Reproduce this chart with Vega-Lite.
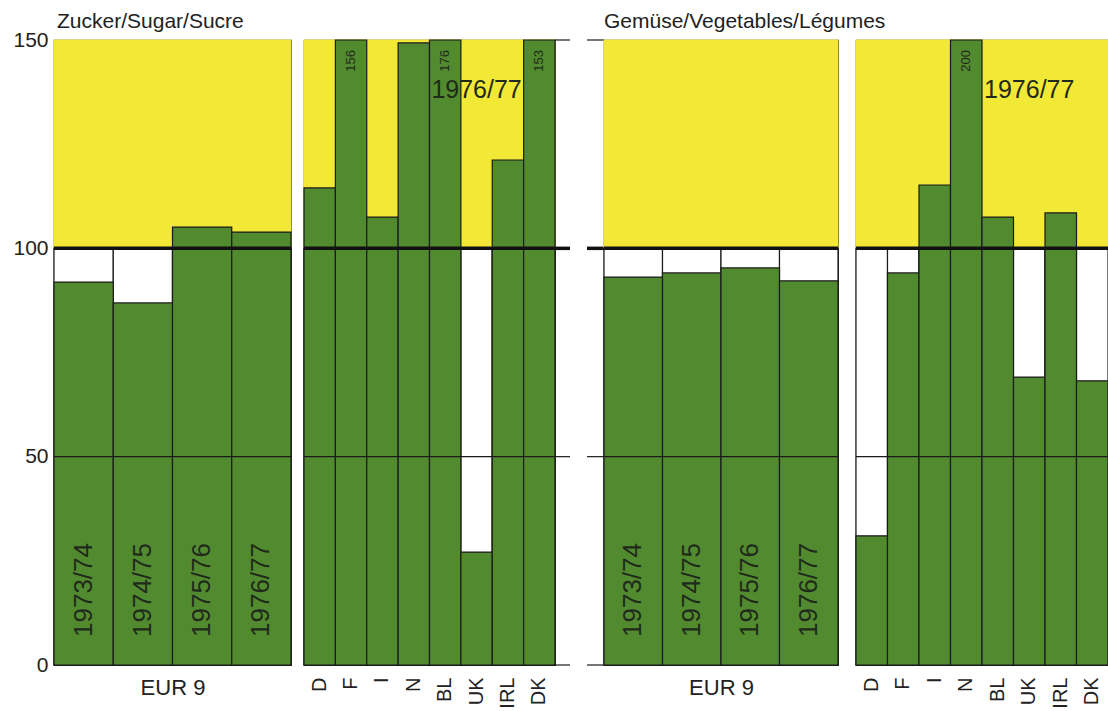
{
"$schema":"https://vega.github.io/schema/vega-lite/v6.json",
"padding":{"left":12,"top":10,"right":0,"bottom":0},
"background":"white",
"config":{"font":"Liberation Sans","view":{"stroke":"#1b1b1b","strokeWidth":1.2}},
"datasets":{
"sugar_eur":[{"k":"1973/74","v":91.9},{"k":"1974/75","v":86.9},{"k":"1975/76","v":105.1},{"k":"1976/77","v":103.9}],
"sugar_cty":[{"k":"D","v":114.5},{"k":"F","v":156},{"k":"I","v":107.5},{"k":"N","v":149.3},{"k":"BL","v":176},{"k":"UK","v":27.1},{"k":"IRL","v":121.2},{"k":"DK","v":153}],
"veg_eur":[{"k":"1973/74","v":93.1},{"k":"1974/75","v":94.1},{"k":"1975/76","v":95.3},{"k":"1976/77","v":92.2}],
"veg_cty":[{"k":"D","v":31.0},{"k":"F","v":94.1},{"k":"I","v":115.2},{"k":"N","v":200},{"k":"BL","v":107.5},{"k":"UK","v":69.1},{"k":"IRL","v":108.5},{"k":"DK","v":68.2}],
"mid":[{"lv":50}],
"hundred":[{"lv":100}],
"stub":[{"lv":0},{"lv":50},{"lv":150}]
},
"spacing":0,
"bounds":"flush",
"resolve":{"scale":{"x":"independent","y":"independent"}},
"hconcat":[
{
"width":237,"height":625,
"data":{"name":"sugar_eur"},
"layer":[
{"mark":{"type":"bar","fill":"#f2e836","stroke":"#f2e836","strokeWidth":1},"encoding":{"x":{"field":"k","type":"nominal","sort":null,"scale":{"paddingInner":0,"paddingOuter":0},"axis":{"title":"EUR 9","labels":false,"ticks":false,"domain":false,"titleFontSize":22,"titleFontWeight":"normal","titlePadding":12,"titleColor":"#222222"}},"y":{"datum":100,"type":"quantitative","scale":{"domain":[0,150],"nice":false,"clamp":true},"axis":{"values":[0,50,100,150],"title":null,"labelFontSize":21,"labelColor":"#222222","ticks":false,"domain":false,"grid":false,"labelPadding":6}},"y2":{"datum":150}}},
{"mark":{"type":"bar","fill":"#ffffff","stroke":"#1b1b1b","strokeWidth":1.2},"encoding":{"x":{"field":"k","type":"nominal","sort":null},"y":{"datum":0,"type":"quantitative"},"y2":{"datum":100}}},
{"mark":{"type":"bar","fill":"#528a30","stroke":"#1b1b1b","strokeWidth":1.2},"encoding":{"x":{"field":"k","type":"nominal","sort":null},"y":{"field":"v","type":"quantitative"},"y2":{"datum":0}}},
{"mark":{"type":"text","angle":270,"fontSize":26,"color":"#1f2a1a","align":"center","baseline":"middle"},"encoding":{"x":{"field":"k","type":"nominal","sort":null},"y":{"datum":18,"type":"quantitative"},"text":{"field":"k"}}},
{"data":{"name":"mid"},"mark":{"type":"rule","color":"#1b1b1b","strokeWidth":1.1},"encoding":{"y":{"field":"lv","type":"quantitative"}}},
{"data":{"name":"hundred"},"mark":{"type":"rule","color":"#111111","strokeWidth":3.5},"encoding":{"y":{"field":"lv","type":"quantitative"}}},
{"data":{"values":[{"t":"Zucker/Sugar/Sucre"}]},"mark":{"type":"text","fontSize":21,"color":"#222222","align":"left","baseline":"alphabetic","dx":3,"dy":-12},"encoding":{"x":{"datum":"1973/74","type":"nominal","bandPosition":0},"y":{"datum":150,"type":"quantitative"},"text":{"field":"t"}}}
]
},
{"width":13,"height":625,"view":{"stroke":null},"data":{"name":"hundred"},"mark":{"type":"rule","opacity":0},"encoding":{"y":{"field":"lv","type":"quantitative","axis":null,"scale":{"domain":[0,150],"nice":false}}}},
{
"width":251,"height":625,
"data":{"name":"sugar_cty"},
"layer":[
{"mark":{"type":"bar","fill":"#f2e836","stroke":"#f2e836","strokeWidth":1},"encoding":{"x":{"field":"k","type":"nominal","sort":null,"scale":{"domain":["D","F","I","N","BL","UK","IRL","DK"],"paddingInner":0,"paddingOuter":0},"axis":{"title":null,"labelAngle":270,"labelFontSize":20,"labelPadding":12,"ticks":false,"domain":false,"labelColor":"#222222"}},"y":{"datum":100,"type":"quantitative","scale":{"domain":[0,150],"nice":false,"clamp":true},"axis":null},"y2":{"datum":150}}},
{"mark":{"type":"bar","fill":"#ffffff","stroke":"#1b1b1b","strokeWidth":1.2},"encoding":{"x":{"field":"k","type":"nominal","sort":null},"y":{"datum":0,"type":"quantitative","axis":null},"y2":{"datum":100}}},
{"mark":{"type":"bar","fill":"#528a30","stroke":"#1b1b1b","strokeWidth":1.2},"encoding":{"x":{"field":"k","type":"nominal","sort":null},"y":{"field":"v","type":"quantitative","axis":null},"y2":{"datum":0}}},
{"transform":[{"filter":"datum.v > 150"}],"mark":{"type":"text","angle":270,"fontSize":13,"color":"#1f2a1a","align":"center","baseline":"middle"},"encoding":{"x":{"field":"k","type":"nominal","sort":null},"y":{"datum":145,"type":"quantitative","axis":null},"text":{"field":"v"}}},
{"data":{"values":[{"k":"UK","t":"1976/77"}]},"mark":{"type":"text","fontSize":25,"color":"#1f2a1a","align":"center","baseline":"middle"},"encoding":{"x":{"field":"k","type":"nominal"},"y":{"datum":138,"type":"quantitative","axis":null},"text":{"field":"t"}}},
{"data":{"name":"mid"},"mark":{"type":"rule","color":"#1b1b1b","strokeWidth":1.1},"encoding":{"y":{"field":"lv","type":"quantitative","axis":null}}},
{"data":{"name":"hundred"},"mark":{"type":"rule","color":"#111111","strokeWidth":3.5},"encoding":{"y":{"field":"lv","type":"quantitative","axis":null}}}
]
},
{"width":15,"height":625,"view":{"stroke":null},
"layer":[
{"data":{"name":"stub"},"mark":{"type":"rule","color":"#1b1b1b","strokeWidth":1.2},"encoding":{"y":{"field":"lv","type":"quantitative","axis":null,"scale":{"domain":[0,150],"nice":false}}}},
{"data":{"name":"hundred"},"mark":{"type":"rule","color":"#111111","strokeWidth":3.5},"encoding":{"y":{"field":"lv","type":"quantitative","axis":null}}}
]},
{"width":17,"height":625,"view":{"stroke":null},"data":{"name":"hundred"},"mark":{"type":"rule","opacity":0},"encoding":{"y":{"field":"lv","type":"quantitative","axis":null,"scale":{"domain":[0,150],"nice":false}}}},
{"width":17,"height":625,"view":{"stroke":null},
"layer":[
{"data":{"name":"stub"},"mark":{"type":"rule","color":"#1b1b1b","strokeWidth":1.2},"encoding":{"y":{"field":"lv","type":"quantitative","axis":null,"scale":{"domain":[0,150],"nice":false}}}},
{"data":{"name":"hundred"},"mark":{"type":"rule","color":"#111111","strokeWidth":3.5},"encoding":{"y":{"field":"lv","type":"quantitative","axis":null}}}
]},
{
"width":234,"height":625,
"data":{"name":"veg_eur"},
"layer":[
{"mark":{"type":"bar","fill":"#f2e836","stroke":"#f2e836","strokeWidth":1},"encoding":{"x":{"field":"k","type":"nominal","sort":null,"scale":{"paddingInner":0,"paddingOuter":0},"axis":{"title":"EUR 9","labels":false,"ticks":false,"domain":false,"titleFontSize":22,"titleFontWeight":"normal","titlePadding":12,"titleColor":"#222222"}},"y":{"datum":100,"type":"quantitative","scale":{"domain":[0,150],"nice":false,"clamp":true},"axis":null},"y2":{"datum":150}}},
{"mark":{"type":"bar","fill":"#ffffff","stroke":"#1b1b1b","strokeWidth":1.2},"encoding":{"x":{"field":"k","type":"nominal","sort":null},"y":{"datum":0,"type":"quantitative","axis":null},"y2":{"datum":100}}},
{"mark":{"type":"bar","fill":"#528a30","stroke":"#1b1b1b","strokeWidth":1.2},"encoding":{"x":{"field":"k","type":"nominal","sort":null},"y":{"field":"v","type":"quantitative","axis":null},"y2":{"datum":0}}},
{"mark":{"type":"text","angle":270,"fontSize":26,"color":"#1f2a1a","align":"center","baseline":"middle"},"encoding":{"x":{"field":"k","type":"nominal","sort":null},"y":{"datum":18,"type":"quantitative","axis":null},"text":{"field":"k"}}},
{"data":{"name":"mid"},"mark":{"type":"rule","color":"#1b1b1b","strokeWidth":1.1},"encoding":{"y":{"field":"lv","type":"quantitative","axis":null}}},
{"data":{"name":"hundred"},"mark":{"type":"rule","color":"#111111","strokeWidth":3.5},"encoding":{"y":{"field":"lv","type":"quantitative","axis":null}}},
{"data":{"values":[{"t":"Gemüse/Vegetables/Légumes"}]},"mark":{"type":"text","fontSize":21,"color":"#222222","align":"left","baseline":"alphabetic","dx":0,"dy":-12},"encoding":{"x":{"datum":"1973/74","type":"nominal","bandPosition":0},"y":{"datum":150,"type":"quantitative","axis":null},"text":{"field":"t"}}}
]
},
{"width":18,"height":625,"view":{"stroke":null},"data":{"name":"hundred"},"mark":{"type":"rule","opacity":0},"encoding":{"y":{"field":"lv","type":"quantitative","axis":null,"scale":{"domain":[0,150],"nice":false}}}},
{
"width":252,"height":625,
"data":{"name":"veg_cty"},
"layer":[
{"mark":{"type":"bar","fill":"#f2e836","stroke":"#f2e836","strokeWidth":1},"encoding":{"x":{"field":"k","type":"nominal","sort":null,"scale":{"domain":["D","F","I","N","BL","UK","IRL","DK"],"paddingInner":0,"paddingOuter":0},"axis":{"title":null,"labelAngle":270,"labelFontSize":20,"labelPadding":12,"ticks":false,"domain":false,"labelColor":"#222222"}},"y":{"datum":100,"type":"quantitative","scale":{"domain":[0,150],"nice":false,"clamp":true},"axis":null},"y2":{"datum":150}}},
{"mark":{"type":"bar","fill":"#ffffff","stroke":"#1b1b1b","strokeWidth":1.2},"encoding":{"x":{"field":"k","type":"nominal","sort":null},"y":{"datum":0,"type":"quantitative","axis":null},"y2":{"datum":100}}},
{"mark":{"type":"bar","fill":"#528a30","stroke":"#1b1b1b","strokeWidth":1.2},"encoding":{"x":{"field":"k","type":"nominal","sort":null},"y":{"field":"v","type":"quantitative","axis":null},"y2":{"datum":0}}},
{"transform":[{"filter":"datum.v > 150"}],"mark":{"type":"text","angle":270,"fontSize":13,"color":"#1f2a1a","align":"center","baseline":"middle"},"encoding":{"x":{"field":"k","type":"nominal","sort":null},"y":{"datum":145,"type":"quantitative","axis":null},"text":{"field":"v"}}},
{"data":{"values":[{"k":"UK","t":"1976/77"}]},"mark":{"type":"text","fontSize":25,"color":"#1f2a1a","align":"center","baseline":"middle"},"encoding":{"x":{"field":"k","type":"nominal"},"y":{"datum":138,"type":"quantitative","axis":null},"text":{"field":"t"}}},
{"data":{"name":"mid"},"mark":{"type":"rule","color":"#1b1b1b","strokeWidth":1.1},"encoding":{"y":{"field":"lv","type":"quantitative","axis":null}}},
{"data":{"name":"hundred"},"mark":{"type":"rule","color":"#111111","strokeWidth":3.5},"encoding":{"y":{"field":"lv","type":"quantitative","axis":null}}}
]
}
]
}
